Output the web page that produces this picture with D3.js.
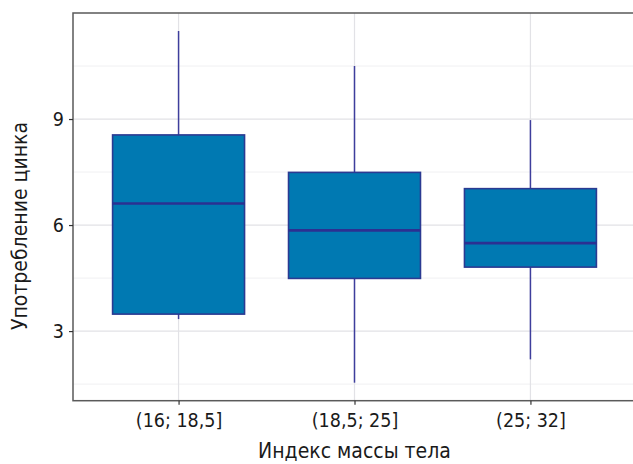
<!DOCTYPE html>
<html>
<head>
<meta charset="utf-8">
<script src="https://cdn.jsdelivr.net/npm/d3@7"></script>
<style>
body { margin: 0; background: #fff; }
text { font-family: "Liberation Sans Narrow", "DejaVu Sans Condensed", "Roboto", sans-serif; }
</style>
</head>
<body>
<svg id="chart"></svg>
<script>
const categories = ['(16; 18,5]', '(18,5; 25]', '(25; 32]'];
const whiskerLow = [3.34, 1.54, 2.2];
const q1 = [3.48, 4.49, 4.81];
const median = [6.61, 5.85, 5.49];
const q3 = [8.55, 7.49, 7.03];
const whiskerHigh = [11.49, 10.5, 8.97];
const yTicks = [3, 6, 9];
const yMinor = [1.5, 4.5, 7.5, 10.5];

const width = 633, height = 464;
const plotLeft = 73, plotRight = 636, plotTop = 13, plotBottom = 400.7;

const svg = d3.select('#chart')
    .attr('width', width)
    .attr('height', height);

const x = d3.scaleLinear()
    .domain([0.4, categories.length + 0.6])
    .range([plotLeft, plotRight]);
const y = d3.scaleLinear()
    .domain([1.03, 12.0])
    .range([plotBottom, plotTop]);
const boxW = (x(1) - x(0)) * 0.75;

// grid
svg.append('g').selectAll('line')
    .data(yMinor).join('line')
    .attr('x1', plotLeft).attr('x2', plotRight)
    .attr('y1', d => y(d)).attr('y2', d => y(d))
    .style('stroke', '#f0f0f2').style('stroke-width', 1);
svg.append('g').selectAll('line')
    .data(yTicks).join('line')
    .attr('x1', plotLeft).attr('x2', plotRight)
    .attr('y1', d => y(d)).attr('y2', d => y(d))
    .style('stroke', '#e2e2e6').style('stroke-width', 1.2);
svg.append('g').selectAll('line')
    .data(categories).join('line')
    .attr('x1', (d, i) => x(i + 1)).attr('x2', (d, i) => x(i + 1))
    .attr('y1', plotTop).attr('y2', plotBottom)
    .style('stroke', '#e2e2e6').style('stroke-width', 1.2);

// boxes
const boxes = svg.append('g').selectAll('g')
    .data(categories).join('g');
boxes.append('line')
    .attr('x1', (d, i) => x(i + 1)).attr('x2', (d, i) => x(i + 1))
    .attr('y1', (d, i) => y(whiskerHigh[i])).attr('y2', (d, i) => y(q3[i]))
    .style('stroke', '#3e3e9c').style('stroke-width', 1.5);
boxes.append('line')
    .attr('x1', (d, i) => x(i + 1)).attr('x2', (d, i) => x(i + 1))
    .attr('y1', (d, i) => y(q1[i])).attr('y2', (d, i) => y(whiskerLow[i]))
    .style('stroke', '#3e3e9c').style('stroke-width', 1.5);
boxes.append('rect')
    .attr('x', (d, i) => x(i + 1) - boxW / 2)
    .attr('width', boxW)
    .attr('y', (d, i) => y(q3[i]))
    .attr('height', (d, i) => y(q1[i]) - y(q3[i]))
    .style('fill', '#0079b2')
    .style('stroke', '#2b3a92').style('stroke-width', 1.6);
boxes.append('line')
    .attr('x1', (d, i) => x(i + 1) - boxW / 2).attr('x2', (d, i) => x(i + 1) + boxW / 2)
    .attr('y1', (d, i) => y(median[i])).attr('y2', (d, i) => y(median[i]))
    .style('stroke', '#2b3092').style('stroke-width', 2.6);

// panel border
svg.append('rect')
    .attr('x', plotLeft).attr('y', plotTop)
    .attr('width', plotRight - plotLeft).attr('height', plotBottom - plotTop)
    .style('fill', 'none').style('stroke', '#5a5a5a').style('stroke-width', 1.5);

// axes
const yAxis = svg.append('g')
    .attr('transform', `translate(${plotLeft},0)`)
    .call(d3.axisLeft(y).tickValues(yTicks).tickSize(4).tickPadding(5));
const xAxis = svg.append('g')
    .attr('transform', `translate(0,${plotBottom})`)
    .call(d3.axisBottom(x).tickValues([1, 2, 3]).tickFormat(d => categories[d - 1]).tickSize(4).tickPadding(8));
[yAxis, xAxis].forEach(a => {
    a.select('.domain').remove();
    a.selectAll('.tick line').style('stroke', '#333').style('stroke-width', 1.2);
    a.selectAll('.tick text').style('font-size', '19.5px').style('fill', '#1a1a1a')
        .style('font-family', '"Liberation Sans Narrow", "DejaVu Sans Condensed", sans-serif');
});

// titles
svg.append('text')
    .attr('x', x(2)).attr('y', 458)
    .attr('text-anchor', 'middle')
    .style('font-size', '21px').style('fill', '#1a1a1a')
    .text('Индекс массы тела');
svg.append('text')
    .attr('transform', 'translate(27,226) rotate(-90)')
    .attr('text-anchor', 'middle')
    .style('font-size', '21px').style('fill', '#1a1a1a')
    .text('Употребление цинка');
</script>
</body>
</html>
